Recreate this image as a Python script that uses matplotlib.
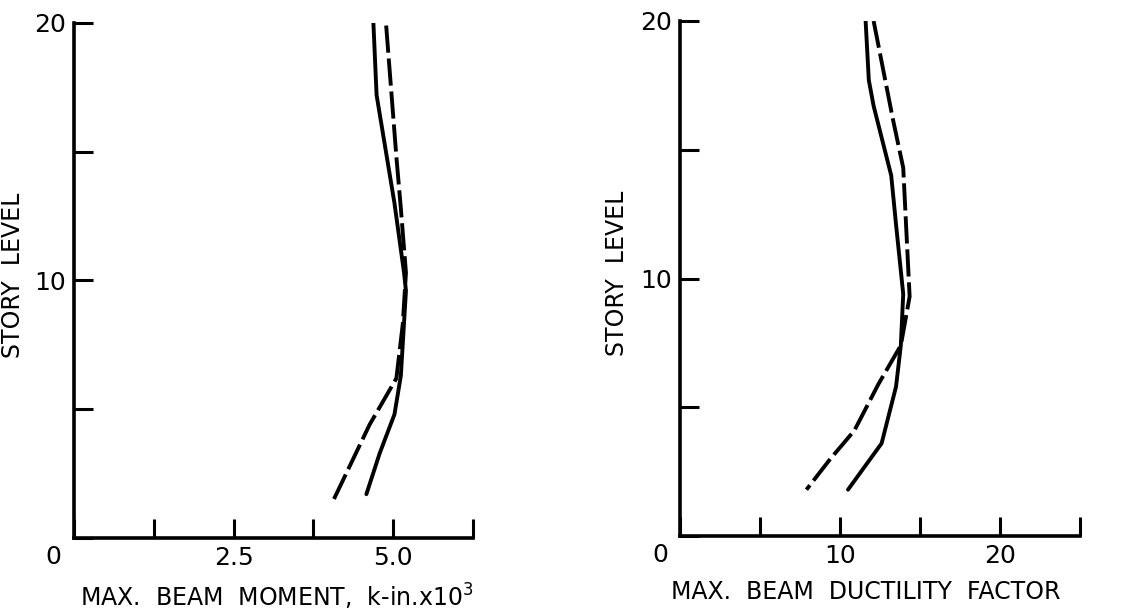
import matplotlib
matplotlib.use('Agg')
import matplotlib.pyplot as plt

moment_solid_x = [4.69, 4.74, 5.02, 5.17, 5.20, 5.12, 5.02, 4.79, 4.58]
moment_solid_y = [20.0, 17.2, 13.0, 10.3, 9.6, 6.3, 4.8, 3.3, 1.7]
moment_dash_x = [4.89, 5.05, 5.12, 5.20, 5.15, 5.05, 4.63, 4.07]
moment_dash_y = [19.9, 14.8, 12.8, 10.3, 8.3, 6.2, 4.4, 1.5]

duct_solid_x = [11.6, 11.8, 12.1, 13.2, 13.5, 13.95, 13.8, 13.5, 12.6, 10.5]
duct_solid_y = [20.0, 17.7, 16.7, 14.0, 12.1, 9.4, 7.4, 5.8, 3.6, 1.8]
duct_dash_x = [12.1, 13.3, 13.95, 14.35, 13.8, 12.4, 10.9, 9.4, 7.9]
duct_dash_y = [20.0, 16.2, 14.3, 9.3, 7.4, 5.9, 4.1, 3.0, 1.8]

left_xticks = [0, 1.25, 2.5, 3.75, 5.0, 6.25]
left_xlabels = ['', '', '2.5', '', '5.0', '']
right_xticks = [0, 5, 10, 15, 20, 25]
right_xlabels = ['', '', '10', '', '20', '']
yticks = [0, 5, 10, 15, 20]
ylabels = ['', '', '10', '', '20']

plt.rcParams['font.family'] = ['DejaVu Sans']
fig = plt.figure(figsize=(11.4, 6.14), dpi=100, facecolor='white')
ax1 = fig.add_axes([0.0649, 0.1238, 0.350, 0.8388])
ax2 = fig.add_axes([0.5965, 0.1270, 0.3509, 0.8388])

panels = [
    (ax1, moment_solid_x, moment_solid_y, moment_dash_x, moment_dash_y,
     6.25, left_xticks, left_xlabels, 'MAX.  BEAM  MOMENT,  k-in.x$10^3$',
     0.509, -0.123, -0.053),
    (ax2, duct_solid_x, duct_solid_y, duct_dash_x, duct_dash_y,
     25, right_xticks, right_xlabels, 'MAX.  BEAM  DUCTILITY  FACTOR',
     0.465, -0.128, -0.05),
]

for ax, sx, sy, dx, dy, xmax, xt, xl, xlabel, xlab_x, ylab_x, zero_x in panels:
    ax.plot(sx, sy, color='black', linewidth=2.8, solid_capstyle='round')
    ax.plot(dx, dy, color='black', linewidth=2.8, dashes=(7, 1.5))
    ax.set_xlim(0, xmax)
    ax.set_ylim(0, 20)
    ax.set_xticks(xt)
    ax.set_xticklabels(xl)
    ax.set_yticks(yticks)
    ax.set_yticklabels(ylabels)
    ax.tick_params(direction='in', length=14, width=2.2, labelsize=18, pad=6)
    for s in ['top', 'right']:
        ax.spines[s].set_visible(False)
    for s in ['left', 'bottom']:
        ax.spines[s].set_linewidth(2.6)
    ax.set_ylabel('STORY  LEVEL', fontsize=17)
    ax.yaxis.set_label_coords(ylab_x, 0.51)
    ax.set_xlabel(xlabel, fontsize=17)
    ax.xaxis.set_label_coords(xlab_x, -0.085)
    ax.text(zero_x, -0.037, '0', transform=ax.transAxes, fontsize=18,
            ha='center', va='center')

fig.savefig('out.png', dpi=100, facecolor='white')
